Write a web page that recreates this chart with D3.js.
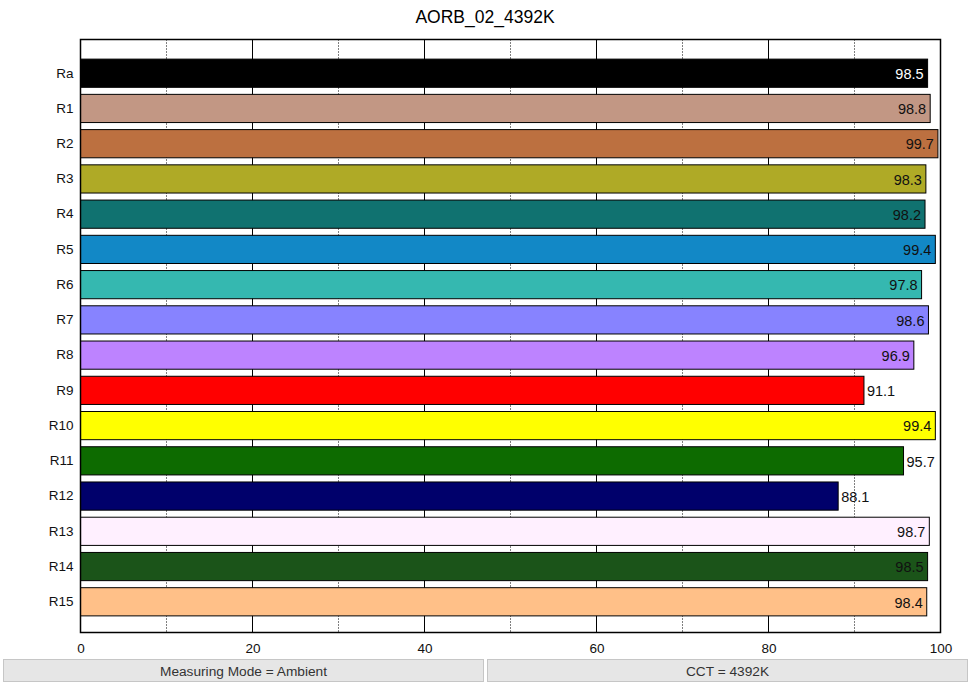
<!DOCTYPE html>
<html>
  <head>
    <title>AORB_02_4392K</title>
    <style>
      body { margin: 0; background: #fff; }
      svg text { font-family: Helvetica, Arial, "Liberation Sans", sans-serif; }
    </style>
  </head>
  <body>
    <svg width="970" height="683"></svg>
    <script src="https://d3js.org/d3.v7.min.js"></script>
    <script>

    // chart data
    var title = "AORB_02_4392K";
    var categories = ["Ra", "R1", "R2", "R3", "R4", "R5", "R6", "R7", "R8", "R9", "R10", "R11", "R12", "R13", "R14", "R15"];
    var values = [98.5, 98.8, 99.7, 98.3, 98.2, 99.4, 97.8, 98.6, 96.9, 91.1, 99.4, 95.7, 88.1, 98.7, 98.5, 98.4];
    var barColors = ["#000000", "#c29784", "#bc7040", "#afaa26", "#107270", "#1288c6", "#35b8b0", "#8783ff",
                     "#bd83ff", "#ff0000", "#ffff00", "#0d6b00", "#00006b", "#fff0ff", "#1b5419", "#ffc088"];
    var xTicks = [0, 20, 40, 60, 80, 100];
    var minorTicks = [10, 30, 50, 70, 90];
    var footer = ["Measuring Mode = Ambient", "CCT = 4392K"];

    var svg = d3.select("svg"),
        margin = {top: 39.5, right: 30, bottom: 51, left: 80.5},
        width = 860,
        height = 593;

    var data = categories.map(function(c, i) { return {name: c, value: values[i], color: barColors[i]}; });

    var x = d3.scaleLinear().domain([0, 100]).range([0, width]);
    var y = d3.scaleBand().domain(categories).range([2, height + 1]).paddingInner(0.2).paddingOuter(0.5);

    svg.append("text")
        .attr("x", 485).attr("y", 23)
        .attr("text-anchor", "middle")
        .attr("font-size", 17.5)
        .text(title);

    var g = svg.append("g").attr("transform", "translate(" + margin.left + "," + margin.top + ")");

    // gridlines: solid on major ticks, dotted on minor
    g.selectAll(".major").data(xTicks.slice(1, -1)).enter().append("line")
        .attr("x1", function(d) { return x(d); }).attr("x2", function(d) { return x(d); })
        .attr("y1", 0).attr("y2", height)
        .attr("stroke", "#000").attr("stroke-width", 1);
    g.selectAll(".minor").data(minorTicks).enter().append("line")
        .attr("x1", function(d) { return x(d); }).attr("x2", function(d) { return x(d); })
        .attr("y1", 0).attr("y2", height)
        .attr("stroke", "#000").attr("stroke-width", 1).attr("stroke-dasharray", "1,2");

    // bars
    g.selectAll(".bar").data(data).enter().append("rect")
        .attr("x", 0)
        .attr("y", function(d) { return y(d.name); })
        .attr("width", function(d) { return x(d.value); })
        .attr("height", y.bandwidth())
        .attr("fill", function(d) { return d.color; })
        .attr("stroke", "#000").attr("stroke-width", 1);

    // value labels, inside the bar end unless the bar is short
    g.selectAll(".val").data(data).enter().append("text")
        .attr("x", function(d) { return d.value < 96 ? x(d.value) + 3 : x(d.value) - 4; })
        .attr("y", function(d) { return y(d.name) + y.bandwidth() / 2; })
        .attr("dy", "0.4em")
        .attr("text-anchor", function(d) { return d.value < 96 ? "start" : "end"; })
        .attr("font-size", 14.5)
        .attr("fill", function(d) { return d.name === "Ra" ? "#fff" : "#111"; })
        .text(function(d) { return d.value.toFixed(1); });

    // frame
    g.append("rect")
        .attr("x", 0).attr("y", 0).attr("width", width).attr("height", height)
        .attr("fill", "none").attr("stroke", "#000").attr("stroke-width", 1.5);

    // category labels
    var yAxis = g.append("g").call(d3.axisLeft(y).tickSize(0).tickPadding(7));
    yAxis.select(".domain").remove();
    yAxis.selectAll("text").attr("font-size", 13.5).attr("fill", "#111").style("font-family", null);

    // x tick labels
    var xAxis = g.append("g").attr("transform", "translate(0," + height + ")")
        .call(d3.axisBottom(x).tickValues(xTicks).tickSize(0).tickPadding(11));
    xAxis.select(".domain").remove();
    xAxis.selectAll("text").attr("font-size", 13.5).attr("fill", "#111").style("font-family", null);

    // footer status panels
    var panels = svg.selectAll(".panel").data(footer).enter().append("g")
        .attr("transform", function(d, i) { return "translate(" + (3.5 + i * 484) + ",659.5)"; });
    panels.append("rect")
        .attr("width", 480).attr("height", 22)
        .attr("fill", "#e6e6e6").attr("stroke", "#c6c6c6");
    panels.append("text")
        .attr("x", 240).attr("y", 16)
        .attr("text-anchor", "middle")
        .attr("font-size", 13.7).attr("fill", "#333")
        .text(function(d) { return d; });

    </script>
  </body>
</html>
